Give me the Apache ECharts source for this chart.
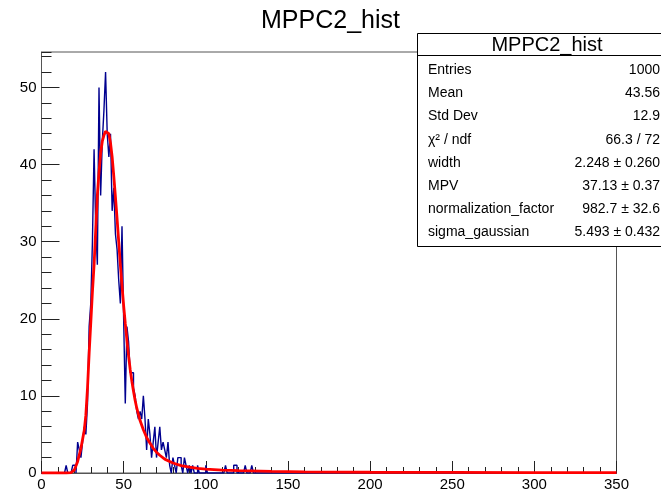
<!DOCTYPE html>
<html>
<head>
<meta charset="utf-8">
<script src="https://cdn.jsdelivr.net/npm/echarts@6/dist/echarts.min.js"></script>
<style>
html,body{margin:0;padding:0;background:#fff;}
#chart{width:661px;height:496px;}
</style>
</head>
<body>
<div id="chart"></div>
<script>
// Histogram: 1-unit bins starting at 0; counts for bins 0..129, all later bins empty
const binWidth = 1;
const nBins = 350;
const counts = [
  0,0,0,0,0,0,0,0,0,0,   // 0-9
  0,0,0,0,0,1,0,0,0,1,   // 10-19
  1,0,4,3,2,4,6,5,9,19,  // 20-29
  22,30,42,32,27,50,36,43,47,52, // 30-39
  44,41,44,34,37,31,29,25,22,32, // 40-49
  20,9,19,17,13,13,11,10,8,7,    // 50-59
  8,7,10,7,3,7,5,2,4,6,          // 60-69
  2,4,6,3,4,3,2,4,1,0,           // 70-79
  2,1,0,2,2,1,0,2,1,0,           // 80-89
  1,0,1,0,0,1,0,0,0,0,           // 90-99
  1,0,0,0,0,0,0,0,0,0,           // 100-109
  0,0,1,0,0,0,0,1,1,0,           // 110-119
  0,0,0,0,1,0,0,0,1,0            // 120-129
];
// Fit curve (Landau x Gauss)
const fitX = [0,10,15,18,20,22,24,26,27,28,29,30,31,32,33,34,35,36,37,38,39,40,41,42,43,44,45,46,47,48,49,50,51,52,53,54,55,56,57,58,60,62,64,66,68,70,72,75,80,85,90,95,100,110,120,140,160,200,250,300,350];
const fitY = [0,0,0,0.05,0.4,1.5,3.2,5.5,7.5,11,15.5,19.5,23.5,27,31.5,36,39,41.5,43,43.8,44.3,44.4,44,42.8,41,38.5,35.8,33,30,27,24.3,21.7,19.4,17.2,15.2,13.4,11.9,10.6,9.4,8.4,6.8,5.6,4.6,3.9,3.2,2.7,2.3,1.8,1.3,0.95,0.75,0.6,0.5,0.38,0.3,0.2,0.15,0.1,0.07,0.05,0.04];
const xTicks = [0,50,100,150,200,250,300,350];
const yTicks = [0,10,20,30,40,50];
const chartTitle = 'MPPC2_hist';
const statsLabels = ['Entries','Mean','Std Dev','\u03c7\u00b2 / ndf','width','MPV','normalization_factor','sigma_gaussian'];
const statsValues = ['1000','43.56','12.9','66.3 / 72','2.248 \u00b1 0.260','37.13 \u00b1 0.37','982.7 \u00b1 32.6','5.493 \u00b1 0.432'];

const histData = [];
for (let i = 0; i < nBins; i++) {
  histData.push([i * binWidth, i < counts.length ? counts[i] : 0]);
}
histData.push([nBins * binWidth, histData[nBins - 1][1]]);
const fitData = fitX.map((x, i) => [x, fitY[i]]);
const yMax = Math.max(...counts) * 1.05;

const FONT = 'Liberation Sans';
const chart = echarts.init(document.getElementById('chart'), null, {renderer: 'canvas'});

const graphics = [];
const boxX = 417.5, boxY = 33.5, boxW = 260, boxH = 213;
graphics.push({type:'rect', z:100, shape:{x:boxX, y:boxY, width:boxW, height:boxH}, style:{fill:'#fff', stroke:'#000', lineWidth:1}});
graphics.push({type:'line', z:101, shape:{x1:boxX, y1:55.5, x2:boxX+boxW, y2:55.5}, style:{stroke:'#000', lineWidth:1}});
graphics.push({type:'text', z:102, style:{x:547, y:45, text:chartTitle, font:'20px "Liberation Sans"', fill:'#000', textAlign:'center', textVerticalAlign:'middle'}});
const rowY = [70.5, 93.5, 116.5, 140, 163, 186, 209, 232.5];
statsLabels.forEach((lab, i) => {
  graphics.push({type:'text', z:102, style:{x:428, y:rowY[i], text:lab, font:'14px "Liberation Sans"', fill:'#000', textAlign:'left', textVerticalAlign:'middle'}});
  graphics.push({type:'text', z:102, style:{x:660, y:rowY[i], text:statsValues[i], font:'14px "Liberation Sans"', fill:'#000', textAlign:'right', textVerticalAlign:'middle'}});
});

const option = {
  animation: false,
  backgroundColor: '#fff',
  title: {
    text: chartTitle, left: 'center', top: 4,
    textStyle: {fontFamily: FONT, fontSize: 25, fontWeight: 'normal', color: '#000'}
  },
  grid: {left: 41.5, right: 44.5, top: 52, bottom: 23, show: true, borderColor: '#555', borderWidth: 1, backgroundColor: 'transparent'},
  xAxis: {
    type: 'value', min: 0, max: 350, interval: 50,
    axisLine: {show: true, onZero: false, lineStyle: {color: '#555', width: 1}},
    axisTick: {show: true, inside: true, length: 12, lineStyle: {color: '#222'}},
    minorTick: {show: true, splitNumber: 5, length: 6, lineStyle: {color: '#222'}},
    splitLine: {show: false},
    axisLabel: {fontFamily: FONT, fontSize: 15, color: '#000', margin: 4,
      formatter: v => xTicks.includes(v) ? String(v) : ''}
  },
  yAxis: [{
    type: 'value', min: 0, max: yMax, interval: 10,
    axisLine: {show: true, lineStyle: {color: '#555', width: 1}},
    axisTick: {show: true, inside: true, length: 18, lineStyle: {color: '#222'}},
    splitLine: {show: false},
    axisLabel: {fontFamily: FONT, fontSize: 15, color: '#000', margin: 5, showMaxLabel: false,
      formatter: v => yTicks.includes(v) ? String(v) : ''}
  }, {
    type: 'value', min: 0, max: yMax, interval: 2, position: 'left',
    axisLine: {show: false},
    axisTick: {show: true, inside: true, length: 10, lineStyle: {color: '#222'}},
    splitLine: {show: false},
    axisLabel: {show: false}
  }],
  series: [{
    type: 'line', step: 'end', data: histData, symbol: 'none', yAxisIndex: 0,
    lineStyle: {color: '#00008f', width: 1.4}, z: 3
  }, {
    type: 'line', data: fitData, symbol: 'none', yAxisIndex: 0, smooth: false,
    lineStyle: {color: '#ff0000', width: 2.8}, z: 4
  }],
  graphic: graphics
};
chart.setOption(option);
</script>
</body>
</html>
